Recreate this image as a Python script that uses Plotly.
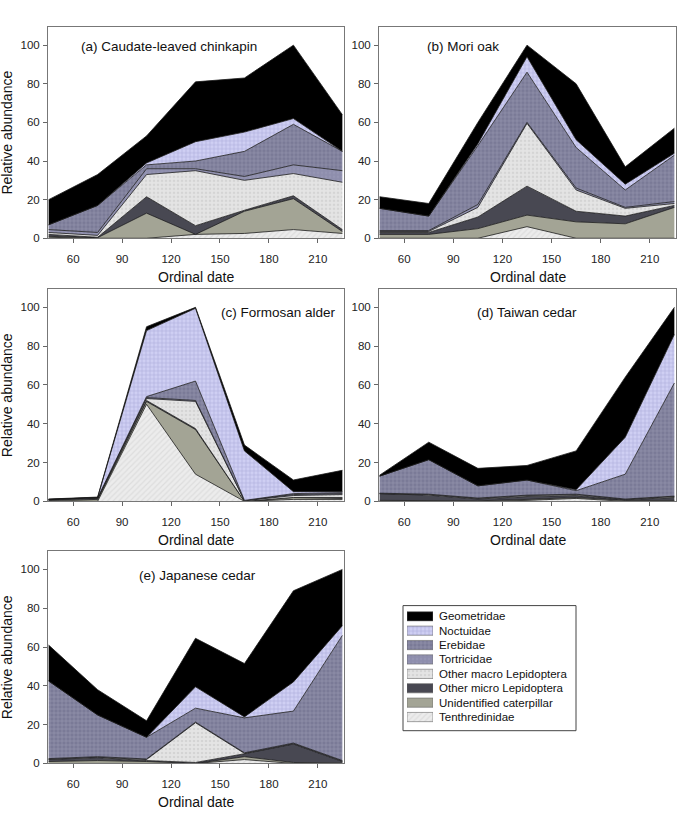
import plotly.graph_objects as go

# ---------------- data ----------------
dates = [45, 75, 105, 135, 165, 195, 225]
x_ticks = [60, 90, 120, 150, 180, 210]
y_ticks = [0, 20, 40, 60, 80, 100]

# stacking order bottom -> top
families = ["Tenthredinidae", "Unidentified caterpillar", "Other micro Lepidoptera",
            "Other macro Lepidoptera", "Tortricidae", "Erebidae", "Noctuidae", "Geometridae"]

chinkapin = {
    "Tenthredinidae":           [0.5, 0, 0, 2, 2.5, 4.5, 2.5],
    "Unidentified caterpillar": [0.5, 0.3, 13, 0, 11.5, 16, 1],
    "Other micro Lepidoptera":  [1, 0.2, 8.5, 4.5, 0.5, 1.5, 1],
    "Other macro Lepidoptera":  [1, 1, 11.5, 28.5, 15.5, 11.5, 24.5],
    "Tortricidae":              [1.5, 1.5, 3, 1, 2, 4.5, 6],
    "Erebidae":                 [2.5, 14, 2, 4, 13, 21, 10],
    "Noctuidae":                [0, 0, 1, 10, 10, 3, 0],
    "Geometridae":              [13, 16, 14, 31, 28, 38, 19],
}
mori_oak = {
    "Tenthredinidae":           [0, 0, 0, 6, 0, 0, 0],
    "Unidentified caterpillar": [2, 2, 5, 6, 8.5, 7.5, 16],
    "Other micro Lepidoptera":  [1, 1, 6, 15, 5.5, 4, 1],
    "Other macro Lepidoptera":  [0.5, 0.5, 5, 32.5, 11, 4, 1],
    "Tortricidae":              [0.5, 0.5, 1.5, 0.5, 1, 0.5, 1],
    "Erebidae":                 [11.5, 7.5, 30.5, 26, 21, 9, 24],
    "Noctuidae":                [0, 0, 1, 8, 4, 3, 1],
    "Geometridae":              [6, 6.5, 11, 6, 29, 9, 13],
}
formosan_alder = {
    "Tenthredinidae":           [0, 0, 50, 14, 0, 1, 1],
    "Unidentified caterpillar": [0.5, 1, 1.5, 23, 0, 1, 0.5],
    "Other micro Lepidoptera":  [0, 0, 0.5, 0.5, 0, 0, 0.5],
    "Other macro Lepidoptera":  [0.3, 0.5, 1, 14, 0.3, 1, 1.5],
    "Tortricidae":              [0.1, 0.1, 0.5, 0.5, 0.2, 0.5, 0.5],
    "Erebidae":                 [0.1, 0.2, 0.5, 10, 0, 0.5, 0.5],
    "Noctuidae":                [0, 0.2, 34, 37.5, 25.5, 1, 0.5],
    "Geometridae":              [0.2, 0.2, 2, 0.5, 3, 6, 11],
}
taiwan_cedar = {
    "Tenthredinidae":           [0, 0, 0, 0.5, 1.5, 0, 0],
    "Unidentified caterpillar": [0.5, 0.5, 0.3, 0.5, 0.5, 0.5, 0.5],
    "Other micro Lepidoptera":  [3.5, 2.7, 0.9, 1.5, 1, 0.3, 1.5],
    "Other macro Lepidoptera":  [0, 0.3, 0.3, 0.5, 0.5, 0.2, 0.5],
    "Tortricidae":              [0.2, 0.2, 0.2, 0.2, 0.2, 0.2, 0.2],
    "Erebidae":                 [8.8, 17.8, 6.3, 7.8, 1.8, 12.8, 58.3],
    "Noctuidae":                [0, 0, 0, 0, 0.5, 19, 25],
    "Geometridae":              [0.5, 9, 9, 7.5, 20, 31, 14],
}
japanese_cedar = {
    "Tenthredinidae":           [0, 0, 0, 0, 2, 0, 0],
    "Unidentified caterpillar": [1, 1.5, 1, 0, 1.5, 0.5, 0.3],
    "Other micro Lepidoptera":  [1, 1.5, 0.5, 0.5, 1.5, 9.5, 0.7],
    "Other macro Lepidoptera":  [0.2, 0.2, 0.5, 20.5, 0.2, 0.2, 0.2],
    "Tortricidae":              [0.3, 0.3, 0.3, 0.3, 0.3, 0.3, 0.3],
    "Erebidae":                 [40, 21.5, 11.2, 7.2, 18, 16.5, 64.5],
    "Noctuidae":                [0, 0, 0, 11, 0.5, 15, 5],
    "Geometridae":              [18.5, 13, 8.5, 25, 27.5, 47, 29],
}

panel_titles = ["(a) Caudate-leaved chinkapin", "(b) Mori oak", "(c) Formosan alder",
                "(d) Taiwan cedar", "(e) Japanese cedar"]
panel_data = [chinkapin, mori_oak, formosan_alder, taiwan_cedar, japanese_cedar]

# ---------------- styles ----------------
styles = {
    "Geometridae":              dict(bg="#000000", shape="", fg="#000000"),
    "Noctuidae":                dict(bg="#cfcff3", shape="+", fg="#9494c8"),
    "Erebidae":                 dict(bg="#7a7a97", shape="+", fg="#aeaec4"),
    "Tortricidae":              dict(bg="#8e8ead", shape=".", fg="#9c9cb8"),
    "Other macro Lepidoptera":  dict(bg="#e4e4e4", shape=".", fg="#c4c4c4"),
    "Other micro Lepidoptera":  dict(bg="#484852", shape="", fg="#484852"),
    "Unidentified caterpillar": dict(bg="#a3a495", shape="", fg="#a3a495"),
    "Tenthredinidae":           dict(bg="#ececec", shape="/", fg="#cdcdcd"),
}

W, H = 695, 832
FONT = "Liberation Sans, Arial, sans-serif"

# pixel boxes (left, right, top, bottom)
boxes = [(48, 344, 27, 240), (379, 676, 27, 240),
         (48, 344, 291, 505), (379, 676, 291, 505),
         (48, 344, 555, 769)]
title_pos = [(0.41, 0.906), (0.283, 0.906), (0.78, 0.888), (0.498, 0.888), (0.505, 0.883)]

fig = go.Figure()
layout = dict(width=W, height=H, margin=dict(l=0, r=0, t=0, b=0),
              paper_bgcolor="white", plot_bgcolor="white", showlegend=False,
              font=dict(family=FONT, color="#222222"))
annotations = []

for i, (title, data) in enumerate(zip(panel_titles, panel_data)):
    k = i + 1
    sfx = "" if k == 1 else str(k)
    xa, ya = f"x{sfx}", f"y{sfx}"
    for fam in families:
        st = styles[fam]
        kw = dict(x=dates, y=data[fam], mode="lines", stackgroup=f"g{k}",
                  line=dict(color="#1a1a1a", width=0.8), fillcolor=st["bg"],
                  xaxis=xa, yaxis=ya, hoverinfo="skip", name=fam)
        if st["shape"]:
            kw["fillpattern"] = dict(shape=st["shape"], fgcolor=st["fg"], bgcolor=st["bg"],
                                     size=4, solidity=0.3)
        fig.add_trace(go.Scatter(**kw))
    l, r, t, b = boxes[i]
    layout[f"xaxis{sfx}"] = dict(domain=[l / W, r / W], anchor=ya, range=[44.6, 226],
                                 tickvals=x_ticks, ticks="outside", ticklen=4, tickcolor="#666",
                                 showline=True, linecolor="#777", linewidth=1, mirror=True,
                                 showgrid=False, zeroline=False, ticklabelstandoff=6,
                                 tickfont=dict(size=11.5, family=FONT, color="#222"))
    layout[f"yaxis{sfx}"] = dict(domain=[1 - b / H, 1 - t / H], anchor=xa, range=[0, 109.5],
                                 tickvals=y_ticks, ticks="outside", ticklen=4, tickcolor="#666",
                                 showline=True, linecolor="#777", linewidth=1, mirror=True,
                                 showgrid=False, zeroline=False, ticklabelstandoff=1,
                                 tickfont=dict(size=11.5, family=FONT, color="#222"))
    tx, ty = title_pos[i]
    annotations.append(dict(text=title, xref=f"{xa} domain", yref=f"{ya} domain",
                            x=tx, y=ty, showarrow=False, xanchor="center", yanchor="middle",
                            font=dict(size=13.5, family=FONT, color="#111")))
    annotations.append(dict(text="Ordinal date", xref="paper", yref="paper",
                            x=(l + r) / 2 / W, y=1 - (b + 39) / H, showarrow=False,
                            xanchor="center", yanchor="middle",
                            font=dict(size=14, family=FONT, color="#111")))
    if i % 2 == 0:
        annotations.append(dict(text="Relative abundance", xref="paper", yref="paper",
                                x=7 / W, y=1 - (t + b) / 2 / H, showarrow=False, textangle=-90,
                                xanchor="center", yanchor="middle",
                                font=dict(size=14, family=FONT, color="#111")))

# ---------------- legend (as keyed swatches) ----------------
legend_order = families[::-1]
for fam in legend_order:
    st = styles[fam]
    marker = dict(color=st["bg"], line=dict(color="#666", width=0.6))
    if st["shape"]:
        marker["pattern"] = dict(shape=st["shape"], fgcolor=st["fg"], bgcolor=st["bg"],
                                 size=4, solidity=0.3)
    fig.add_trace(go.Bar(x=[1], y=[fam], orientation="h", width=0.64, marker=marker,
                         xaxis="x6", yaxis="y6", hoverinfo="skip"))
layout["xaxis6"] = dict(domain=[407 / W, 433 / W], anchor="y6", range=[0, 1], visible=False)
layout["yaxis6"] = dict(domain=[1 - 729.5 / H, 1 - 613.5 / H], anchor="x6", side="right",
                        type="category", categoryorder="array", categoryarray=legend_order,
                        range=[7.5, -0.5], showline=False, ticks="", showgrid=False,
                        zeroline=False, ticklabelstandoff=5,
                        tickfont=dict(size=11.5, family=FONT, color="#111"))
layout["shapes"] = [dict(type="rect", xref="paper", yref="paper",
                         x0=403 / W, x1=576 / W, y0=1 - 736 / H, y1=1 - 610 / H,
                         line=dict(color="#444", width=1), fillcolor="rgba(0,0,0,0)")]
layout["annotations"] = annotations
layout["bargap"] = 0.3

fig.update_layout(**layout)
fig.write_html("out.html")
